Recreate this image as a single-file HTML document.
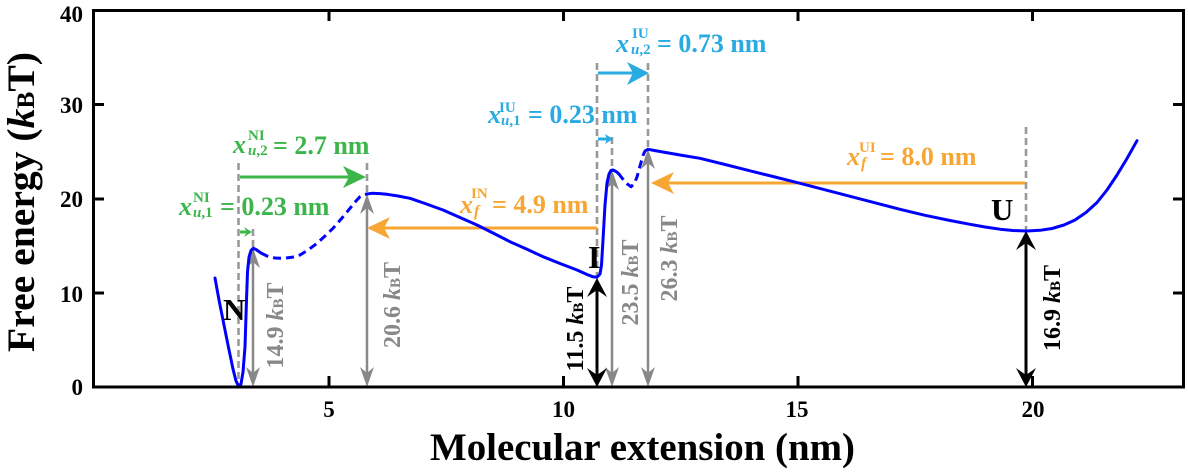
<!DOCTYPE html>
<html>
<head>
<meta charset="utf-8">
<style>
  html, body { margin: 0; padding: 0; background: #ffffff; }
  svg { display: block; }
  text { font-family: "Liberation Serif", "DejaVu Serif", serif; font-weight: bold; }
</style>
</head>
<body>
<svg width="1188" height="474" viewBox="0 0 1188 474" xmlns="http://www.w3.org/2000/svg">
  <rect x="0" y="0" width="1188" height="474" fill="#ffffff"/>

  <!-- gray dashed guide lines -->
  <g stroke="#999999" stroke-width="2.6" stroke-dasharray="7,4" fill="none">
    <line x1="238.5" y1="163" x2="238.5" y2="387"/>
    <line x1="253" y1="229" x2="253" y2="250"/>
    <line x1="367" y1="163" x2="367" y2="195"/>
    <line x1="597" y1="63" x2="597" y2="278"/>
    <line x1="612" y1="137" x2="612" y2="171"/>
    <line x1="648" y1="63" x2="648" y2="150"/>
    <line x1="1026" y1="127" x2="1026" y2="231"/>
  </g>

  <!-- gray vertical double arrows -->
  <g stroke="#888888" stroke-width="2.5" fill="none">
    <line x1="253" y1="262" x2="253" y2="373"/>
    <line x1="367" y1="208" x2="367" y2="373"/>
    <line x1="612" y1="184" x2="612" y2="373"/>
    <line x1="648" y1="163" x2="648" y2="373"/>
  </g>
  <g fill="#888888">
    <path d="M253,248 L246,268 L253,262 L260,268 Z"/>
    <path d="M253,387 L246,367 L253,373 L260,367 Z"/>
    <path d="M367,194 L360,214 L367,208 L374,214 Z"/>
    <path d="M367,387 L360,367 L367,373 L374,367 Z"/>
    <path d="M612,170 L605,190 L612,184 L619,190 Z"/>
    <path d="M612,387 L605,367 L612,373 L619,367 Z"/>
    <path d="M648,149 L641,169 L648,163 L655,169 Z"/>
    <path d="M648,387 L641,367 L648,373 L655,367 Z"/>
  </g>

  <!-- black vertical double arrows -->
  <g stroke="#000000" stroke-width="3" fill="none">
    <line x1="597" y1="290" x2="597" y2="375"/>
    <line x1="1026" y1="243" x2="1026" y2="375"/>
  </g>
  <g fill="#000000">
    <path d="M597,278 L587,297 L597,290 L607,297 Z"/>
    <path d="M597,387 L587,368 L597,375 L607,368 Z"/>
    <path d="M1026,231 L1016,250 L1026,243 L1036,250 Z"/>
    <path d="M1026,387 L1016,368 L1026,375 L1036,368 Z"/>
  </g>

  <!-- colored horizontal arrows -->
  <g stroke-width="3" fill="none">
    <line x1="240" y1="177" x2="350" y2="177" stroke="#3cb54a"/>
    <line x1="240" y1="232" x2="247" y2="232" stroke="#3cb54a"/>
    <line x1="597" y1="228" x2="384" y2="228" stroke="#f8a633"/>
    <line x1="1025" y1="183" x2="668" y2="183" stroke="#f8a633"/>
    <line x1="598" y1="73" x2="633" y2="73" stroke="#29abe2"/>
    <line x1="598" y1="139" x2="607" y2="139" stroke="#29abe2"/>
  </g>
  <path d="M366,177 L343,166 L349,177 L343,188 Z" fill="#3cb54a"/>
  <path d="M252,232 L244,227 L247,232 L244,237 Z" fill="#3cb54a"/>
  <path d="M367,228 L390,217 L384,228 L390,239 Z" fill="#f8a633"/>
  <path d="M651,183 L674,172 L668,183 L674,194 Z" fill="#f8a633"/>
  <path d="M649,73 L627,62 L633,73 L627,85 Z" fill="#29abe2"/>
  <path d="M613,139 L605,134 L607,139 L605,144 Z" fill="#29abe2"/>

  <!-- free energy curve -->
  <g stroke="#0000ff" stroke-width="3" fill="none" stroke-linejoin="round" stroke-linecap="round">
    <polyline points="215,278 219,300 223,320 228,345 233,369 236,381 239,387 241,384 243,372 245,347 246.5,300 247.5,272 249,257 251,250.5 253.3,248.3 256,249.5 261,253"/>
    <polyline stroke-dasharray="8,5" stroke-linecap="butt" points="261,253 267,256 275,258 283,258.3 292,257.3 300,255 308,250 317,243.3 325,236 333,228.3 342,218 350,208.3 356,201 360,196.7 364,194.5 367,194"/>
    <polyline points="367,194 372,193.3 380,193.6 387,194.3 398,196 410,198.3 425,203.5 443,210 460,217.5 477,225 493,233 510,241.7 527,249.3 543,256.7 560,263.5 577,270 587,274.5 593,276.8 597,277.3 600,274 601.5,265 603,240 605,205 607,183 609,174 611,170.5 613,170 616,171.5 618.5,173.5"/>
    <polyline stroke-dasharray="8,5" stroke-linecap="butt" points="618.5,173.5 622,178 626,183 631,186.7 634,184 637,177 640,166 643,155.5 645,151 648,149.3"/>
    <polyline points="648,149.3 655,150.6 665,152.4 680,155 700,158.3 725,164.5 750,170.8 775,177 800,183.3 825,189.8 850,196.3 875,202.8 900,209.3 925,215.3 950,220.5 970,224.3 985,227 1000,229.2 1013,230.5 1027,231 1040,230.3 1052,228.5 1064,225 1075,220 1086,212.5 1097,202.5 1107,190 1117,175 1127,158.5 1137,140.7"/>
  </g>

  <!-- state letters -->
  <text x="223" y="320" font-size="31" fill="#000">N</text>
  <text x="588" y="268" font-size="32" fill="#000">I</text>
  <text x="991" y="220" font-size="31" fill="#000">U</text>

  <!-- rotated energy labels -->
  <g font-size="24">
    <text transform="translate(283,325.5) rotate(-90)" text-anchor="middle" fill="#888888">14.9 <tspan font-style="italic">k</tspan><tspan font-size="15">B</tspan>T</text>
    <text transform="translate(400,305) rotate(-90)" text-anchor="middle" fill="#888888">20.6 <tspan font-style="italic">k</tspan><tspan font-size="15">B</tspan>T</text>
    <text transform="translate(583,329) rotate(-90)" text-anchor="middle" fill="#000000">11.5 <tspan font-style="italic">k</tspan><tspan font-size="15">B</tspan>T</text>
    <text transform="translate(638,282.5) rotate(-90)" text-anchor="middle" fill="#888888">23.5 <tspan font-style="italic">k</tspan><tspan font-size="15">B</tspan>T</text>
    <text transform="translate(677,258.5) rotate(-90)" text-anchor="middle" fill="#888888">26.3 <tspan font-style="italic">k</tspan><tspan font-size="15">B</tspan>T</text>
    <text transform="translate(1060,308) rotate(-90)" text-anchor="middle" fill="#000000">16.9 <tspan font-style="italic">k</tspan><tspan font-size="15">B</tspan>T</text>
  </g>

  <!-- green labels -->
  <g fill="#3cb54a">
    <text x="233" y="153" font-size="26" font-style="italic">x</text>
    <text x="248" y="155" font-size="15"><tspan font-style="italic">u</tspan>,2</text>
    <text x="248" y="140" font-size="15">NI</text>
    <text x="273" y="154" font-size="26">= 2.7 nm</text>

    <text x="179" y="215" font-size="26" font-style="italic">x</text>
    <text x="193" y="217" font-size="15"><tspan font-style="italic">u</tspan>,1</text>
    <text x="193" y="202" font-size="15">NI</text>
    <text x="220" y="215" font-size="26">= 0.23 nm</text>
  </g>

  <!-- orange labels -->
  <g fill="#f8a633">
    <text x="460" y="213" font-size="26" font-style="italic">x</text>
    <text x="474" y="216" font-size="16" font-style="italic">f</text>
    <text x="471" y="198" font-size="15">IN</text>
    <text x="492" y="213" font-size="26">= 4.9 nm</text>

    <text x="847" y="165" font-size="26" font-style="italic">x</text>
    <text x="861" y="168" font-size="16" font-style="italic">f</text>
    <text x="859" y="152" font-size="15">UI</text>
    <text x="880" y="165" font-size="26">= 8.0 nm</text>
  </g>

  <!-- blue labels -->
  <g fill="#29abe2">
    <text x="616" y="52" font-size="26" font-style="italic">x</text>
    <text x="631" y="54" font-size="15"><tspan font-style="italic">u</tspan>,2</text>
    <text x="632" y="38" font-size="15">IU</text>
    <text x="657" y="52" font-size="26">= 0.73 nm</text>

    <text x="488" y="123" font-size="26" font-style="italic">x</text>
    <text x="501" y="125" font-size="15"><tspan font-style="italic">u</tspan>,1</text>
    <text x="499" y="112" font-size="15">IU</text>
    <text x="528" y="123" font-size="26">= 0.23 nm</text>
  </g>

  <!-- axes frame -->
  <rect x="93.5" y="10.5" width="1090" height="376.5" fill="none" stroke="#000" stroke-width="3"/>
  <g stroke="#000" stroke-width="3">
    <line x1="329" y1="387" x2="329" y2="376"/>
    <line x1="563.5" y1="387" x2="563.5" y2="376"/>
    <line x1="798" y1="387" x2="798" y2="376"/>
    <line x1="1032.5" y1="387" x2="1032.5" y2="376"/>
    <line x1="329" y1="10" x2="329" y2="21"/>
    <line x1="563.5" y1="10" x2="563.5" y2="21"/>
    <line x1="798" y1="10" x2="798" y2="21"/>
    <line x1="1032.5" y1="10" x2="1032.5" y2="21"/>
    <line x1="93" y1="104.5" x2="104" y2="104.5"/>
    <line x1="93" y1="199" x2="104" y2="199"/>
    <line x1="93" y1="293" x2="104" y2="293"/>
    <line x1="1184" y1="104.5" x2="1173" y2="104.5"/>
    <line x1="1184" y1="199" x2="1173" y2="199"/>
    <line x1="1184" y1="293" x2="1173" y2="293"/>
  </g>

  <!-- tick labels -->
  <g font-size="23" fill="#000">
    <text x="83" y="22" text-anchor="end">40</text>
    <text x="83" y="113" text-anchor="end">30</text>
    <text x="83" y="207" text-anchor="end">20</text>
    <text x="83" y="302" text-anchor="end">10</text>
    <text x="83" y="395" text-anchor="end">0</text>
    <text x="329" y="417" text-anchor="middle">5</text>
    <text x="563.5" y="417" text-anchor="middle">10</text>
    <text x="797" y="417" text-anchor="middle">15</text>
    <text x="1033" y="417" text-anchor="middle">20</text>
  </g>

  <!-- axis titles -->
  <text x="430" y="460" font-size="39" fill="#000" textLength="425" lengthAdjust="spacingAndGlyphs">Molecular extension (nm)</text>
  <text transform="translate(34,352) rotate(-90)" font-size="39" fill="#000" textLength="300" lengthAdjust="spacingAndGlyphs">Free energy (<tspan font-style="italic">k</tspan><tspan font-size="25">B</tspan>T)</text>
</svg>
</body>
</html>
